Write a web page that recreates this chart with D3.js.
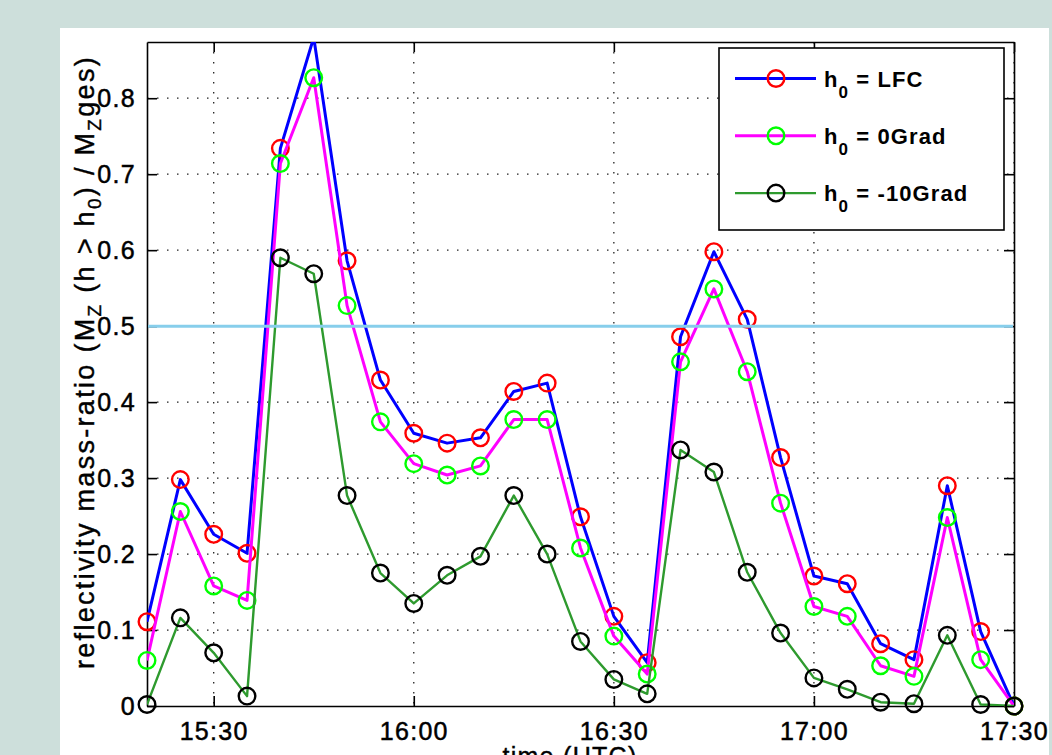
<!DOCTYPE html>
<html>
<head>
<meta charset="utf-8">
<script src="https://cdn.jsdelivr.net/npm/d3@7"></script>
<style>
  html, body { margin: 0; padding: 0; background: #cddfdb; }
  svg { display: block; }
  text { font-family: "Liberation Sans", Arial, Helvetica, sans-serif; }
</style>
</head>
<body>
<svg id="chart" width="1052" height="755"></svg>
<script>
// ---- data ----
const times = ["15:20","15:25","15:30","15:35","15:40","15:45","15:50","15:55",
               "16:00","16:05","16:10","16:15","16:20","16:25","16:30","16:35",
               "16:40","16:45","16:50","16:55","17:00","17:05","17:10","17:15",
               "17:20","17:25","17:30"];
const lfc        = [0.111,0.298,0.226,0.201,0.734,0.880,0.586,0.429,0.359,0.346,0.353,0.414,0.425,0.249,0.118,0.057,0.486,0.598,0.509,0.327,0.171,0.161,0.082,0.061,0.290,0.098,0.000];
const zeroGrad   = [0.060,0.256,0.158,0.139,0.714,0.827,0.527,0.374,0.319,0.304,0.316,0.377,0.377,0.208,0.092,0.042,0.453,0.549,0.440,0.267,0.131,0.118,0.053,0.039,0.248,0.061,0.000];
const minus10Grad= [0.002,0.116,0.070,0.013,0.590,0.569,0.277,0.175,0.135,0.172,0.197,0.277,0.200,0.085,0.035,0.016,0.337,0.308,0.176,0.096,0.037,0.022,0.005,0.003,0.093,0.002,0.000];
const seriesNames = ["LFC", "0Grad", "-10Grad"];
const xTickLabels = ["15:30","16:00","16:30","17:00","17:30"];
const yTicks = [0,0.1,0.2,0.3,0.4,0.5,0.6,0.7,0.8];
const refLevel = [0.5];
const xRange = ["15:20","17:30"];
const yMax = 0.874;

// ---- helpers ----
const parseT = s => { const [h,m] = s.split(":").map(Number); return new Date(Date.UTC(2000,0,1,h,m)); };

const svg = d3.select("#chart");
const L = 147, R = 1014, T = 42, B = 706;

// white figure panel
svg.append("rect").attr("x",60).attr("y",28).attr("width",989).attr("height",740).attr("fill","#ffffff");

const x = d3.scaleUtc().domain(xRange.map(parseT)).range([L,R]);
const y = d3.scaleLinear().domain([0,yMax]).range([B,T]);

svg.append("defs").append("clipPath").attr("id","clip")
  .append("rect").attr("x",L).attr("y",T).attr("width",R-L).attr("height",B-T);

// grid
const gridG = svg.append("g");
gridG.selectAll("line.gx").data(xTickLabels.map(parseT)).join("line")
  .attr("x1",d=>x(d)).attr("x2",d=>x(d)).attr("y1",T).attr("y2",B)
  .attr("stroke","#222").attr("stroke-width",1.3).attr("stroke-dasharray","1.5,8.5");
gridG.selectAll("line.gy").data(yTicks.filter(v=>v>0)).join("line")
  .attr("x1",L).attr("x2",R).attr("y1",d=>y(d)).attr("y2",d=>y(d))
  .attr("stroke","#222").attr("stroke-width",1.3).attr("stroke-dasharray","1.5,8.5");

// axes (inner ticks, mirrored)
const fmtX = d3.utcFormat("%H:%M");
const axB = d3.axisBottom(x).tickValues(xTickLabels.map(parseT)).tickFormat(fmtX).tickSizeInner(-10).tickSizeOuter(0).tickPadding(16);
const axT = d3.axisTop(x).tickValues(xTickLabels.map(parseT)).tickFormat("").tickSizeInner(-10).tickSizeOuter(0);
const axL = d3.axisLeft(y).tickValues(yTicks).tickFormat(d => d===0 ? "0" : d3.format(".1f")(d)).tickSizeInner(-10).tickSizeOuter(0).tickPadding(11);
const axR = d3.axisRight(y).tickValues(yTicks).tickFormat("").tickSizeInner(-10).tickSizeOuter(0);

function styleAxis(g){
  g.select(".domain").attr("stroke","#000").attr("stroke-width",1.6);
  g.selectAll(".tick line").attr("stroke","#000").attr("stroke-width",1.6);
  g.selectAll(".tick text").attr("fill","#000").attr("stroke","#000").attr("stroke-width",0.5)
    .style("font-size","25px").style("letter-spacing","1.3px")
    .style("font-family",'"Liberation Sans", Arial, sans-serif');
}
svg.append("g").attr("transform",`translate(0,${B})`).call(axB).call(styleAxis);
svg.append("g").attr("transform",`translate(0,${T})`).call(axT).call(styleAxis);
svg.append("g").attr("transform",`translate(${L},0)`).call(axL).call(styleAxis);
svg.append("g").attr("transform",`translate(${R},0)`).call(axR).call(styleAxis);

// series
const series = [
  {name: seriesNames[0], values: lfc,         line: "#0000ff", mark: "#ff0000", lw: 3},
  {name: seriesNames[1], values: zeroGrad,    line: "#ff00ff", mark: "#00ff00", lw: 3},
  {name: seriesNames[2], values: minus10Grad, line: "#2e9a2e", mark: "#000000", lw: 2.4}
];
const lineGen = d3.line().x(d=>x(d.t)).y(d=>y(d.v));
series.forEach(s => {
  const pts = times.map((t,i)=>({t: parseT(t), v: s.values[i]}));
  svg.append("path").datum(pts).attr("clip-path","url(#clip)")
    .attr("d",lineGen).attr("fill","none").attr("stroke",s.line).attr("stroke-width",s.lw)
    .attr("stroke-linejoin","round");
  svg.append("g").selectAll("circle").data(pts.filter(p=>p.v<=yMax)).join("circle")
    .attr("cx",d=>x(d.t)).attr("cy",d=>y(d.v)).attr("r",8.3)
    .attr("fill","none").attr("stroke",s.mark).attr("stroke-width",2.4);
});

// reference line 0.5
svg.append("g").selectAll("line").data(refLevel).join("line")
  .attr("x1",L+1).attr("x2",R-1).attr("y1",d=>y(d)).attr("y2",d=>y(d))
  .attr("stroke","#87ceeb").attr("stroke-width",3);

// legend
const lg = svg.append("g");
lg.append("rect").attr("x",719).attr("y",48).attr("width",285).attr("height",182)
  .attr("fill","#fff").attr("stroke","#000").attr("stroke-width",1.6);
series.forEach((s,i) => {
  const cy = 78.5 + i*57.3;
  lg.append("line").attr("x1",735).attr("x2",816).attr("y1",cy).attr("y2",cy)
    .attr("stroke",s.line).attr("stroke-width",s.lw);
  lg.append("circle").attr("cx",776).attr("cy",cy).attr("r",8.3)
    .attr("fill","none").attr("stroke",s.mark).attr("stroke-width",2.4);
  const t = lg.append("text").attr("x",824).attr("y",cy+8).attr("fill","#000")
    .style("font-size","22px").style("font-weight","bold").style("letter-spacing","1.1px");
  t.append("tspan").text("h");
  t.append("tspan").attr("dy",11).style("font-size","17px").text("0");
  t.append("tspan").attr("dy",-11).text("\u00a0=\u00a0" + s.name);
});

// y label
const yl = svg.append("text").attr("transform","translate(94,362) rotate(-90)")
  .attr("text-anchor","middle").attr("fill","#000").attr("stroke","#000").attr("stroke-width",0.4)
  .style("font-size","27px");
yl.append("tspan").text("reflectivity mass-ratio (M");
yl.append("tspan").attr("dy",7).style("font-size","19px").text("Z");
yl.append("tspan").attr("dy",-7).text(" (h > h");
yl.append("tspan").attr("dy",7).style("font-size","19px").text("0");
yl.append("tspan").attr("dy",-7).text(") / M");
yl.append("tspan").attr("dy",7).style("font-size","19px").text("Z");
yl.append("tspan").attr("dy",-7).text("ges)");
// stretch letter-spacing so the label spans the same length as in the reference
{
  const len = yl.node().getComputedTextLength();
  const n = yl.text().length;
  const target = 614;
  yl.style("letter-spacing", Math.max(0, (target - len) / n) + "px");
}

// x label
svg.append("text").attr("x",570).attr("y",765).attr("text-anchor","middle").attr("fill","#000")
  .attr("stroke","#000").attr("stroke-width",0.4)
  .style("font-size","25px").style("letter-spacing","1.3px").text("time (UTC)");
</script>
</body>
</html>
